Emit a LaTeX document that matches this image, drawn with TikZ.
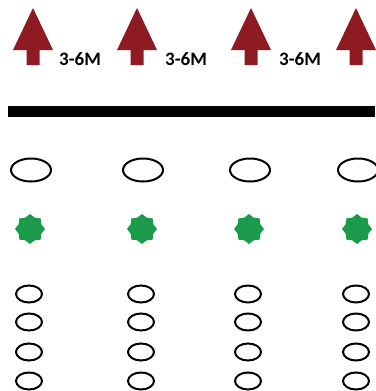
\documentclass[tikz,border=0pt]{standalone}
\usepackage{fontspec}
\setmainfont{Carlito}
\usetikzlibrary{shapes.geometric}
\definecolor{arrred}{HTML}{8E1B22}
\definecolor{stargreen}{HTML}{1B9A4C}
\tikzset{
  upar/.style={fill=arrred,draw=none},
  bigell/.style={ellipse,draw=black,line width=2pt,minimum width=40pt,minimum height=23pt,inner sep=0pt},
  smallell/.style={ellipse,draw=black,line width=2pt,minimum width=26pt,minimum height=17pt,inner sep=0pt},
  gstar/.style={star,star points=8,star point ratio=1.22,fill=stargreen,draw=none,minimum size=30pt,inner sep=0pt},
  lbl/.style={font=\fontsize{19}{19}\selectfont\bfseries,inner sep=0pt,anchor=west},
}
\begin{document}
\begin{tikzpicture}[x=1pt,y=-1pt]
\useasboundingbox (0,0) rectangle (375,391);
% arrows
\foreach \c/\n in {33/a1,137/a2,251/a3,356/a4}{
  \fill[upar] (\c,8) -- (\c+20,50) -- (\c+6.5,50) -- (\c+6.5,65) -- (\c-6.5,65) -- (\c-6.5,50) -- (\c-20,50) -- cycle;
  \coordinate (\n) at (\c,36);
}
\node[lbl] (t1) at (59,59) {3-6M};
\node[lbl] (t2) at (165,59) {3-6M};
\node[lbl] (t3) at (279,59) {3-6M};
% black bar
\fill[black] (8,106) rectangle (375,117);
% columns
\foreach \c/\k in {31/1,143/2,250/3,358/4}{
  \node[bigell] (e\k) at (\c,170) {};
  \node[gstar] (s\k) at (\c-1,229) {};
  \foreach \r/\y in {1/294,2/322,3/352,4/381}{
    \node[smallell] (o\k\r) at (\c-2,\y) {};
  }
}
\end{tikzpicture}
\end{document}
